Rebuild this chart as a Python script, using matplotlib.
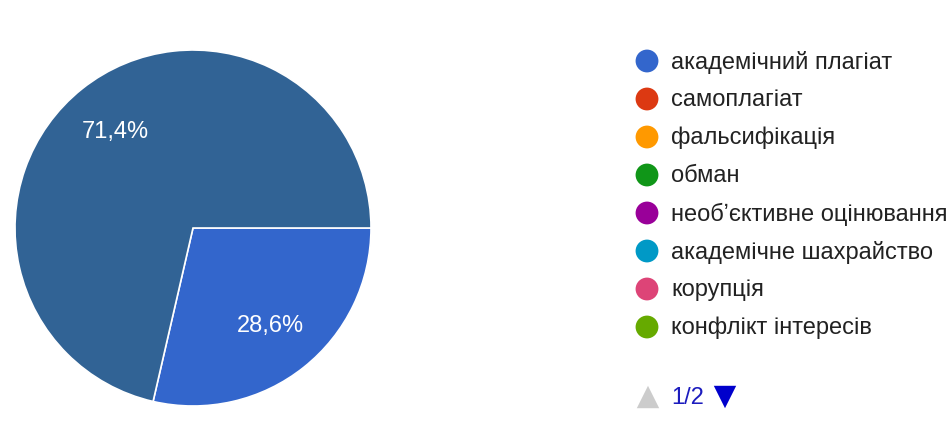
import matplotlib.pyplot as plt

plt.rcParams['font.family'] = ['Liberation Sans', 'DejaVu Sans']

# legend page 1 (8 of the categories) with Google palette colours
categories = ['академічний плагіат', 'самоплагіат', 'фальсифікація', 'обман',
              'необ\u02bcєктивне оцінювання', 'академічне шахрайство', 'корупція',
              'конфлікт інтересів']
colors = ['#3366cc', '#dc3912', '#ff9900', '#109618',
          '#990099', '#0099c6', '#dd4477', '#66aa00']
values = [28.6, 0, 0, 0, 0, 0, 0, 0]

# slice whose category sits on page 2 of the legend
other_value = 71.4
other_color = '#316395'

page_text = '1/2'

fig = plt.figure(figsize=(9.53, 4.35), dpi=100)

# legend drawn in pixel coordinates
leg = fig.add_axes([0, 0, 1, 1])
leg.set_xlim(0, 953)
leg.set_ylim(435, 0)
leg.axis('off')
for i, (name, col) in enumerate(zip(categories, colors)):
    y = 62 + 38 * i
    leg.scatter(647, y, s=270, color=col, edgecolor='none')
    leg.text(671, y, name, fontsize=17, color='#222222', va='center', ha='left')

leg.scatter(648, 398, marker='^', s=260, color='#cccccc', edgecolor='none')
leg.text(671, 398, page_text, fontsize=17, color='#1c1cbe', va='center', ha='left')
leg.scatter(725, 398, marker='v', s=260, color='#0000cc', edgecolor='none')

# pie
ax = fig.add_axes([15 / 953, 28 / 435, 356 / 953, 356 / 435])
pie_vals = [v for v in values if v > 0] + [other_value]
pie_cols = [c for v, c in zip(values, colors) if v > 0] + [other_color]
wedges, texts, autotexts = ax.pie(
    pie_vals, colors=pie_cols, startangle=0, counterclock=False,
    autopct=lambda p: f'{p:.1f}%'.replace('.', ','), pctdistance=0.7,
    wedgeprops=dict(edgecolor='white', linewidth=1.2),
    textprops=dict(color='white', fontsize=17))
ax.set_xlim(-1.0, 1.0)
ax.set_ylim(-1.0, 1.0)
ax.set_aspect('auto')

fig.savefig('out.png', dpi=100)
